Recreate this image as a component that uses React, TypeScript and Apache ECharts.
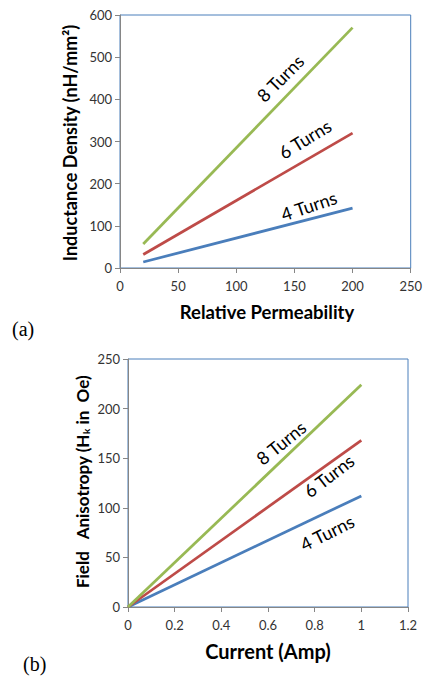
import React, { useEffect, useRef } from "react";
import * as echarts from "echarts";

// Chart (a): Inductance density vs relative permeability
const permeability = [20, 200];
const turns4A = [14.2, 142];
const turns6A = [32, 320];
const turns8A = [57, 570];
const xTicksA = [0, 250, 50];
const yTicksA = [0, 600, 100];

// Chart (b): Field anisotropy vs current
const current = [0, 1];
const turns4B = [0, 112];
const turns6B = [0, 168];
const turns8B = [0, 224];
const xTicksB = [0, 1.2, 0.2];
const yTicksB = [0, 250, 50];

const seriesNames = ["4 Turns", "6 Turns", "8 Turns"];
const colors = ["#4a7ebb", "#be4b48", "#98b954"];

// label anchor positions (data coordinates) and angles
const labelsA = [
  { coord: [162.4, 147.6], angle: 18.6 },
  { coord: [159, 306], angle: 31.5 },
  { coord: [137.8, 450], angle: 45 },
];
const labelsB = [
  { coord: [0.853, 74.9], angle: 26.6 },
  { coord: [0.861, 132.4], angle: 37.5 },
  { coord: [0.656, 165.6], angle: 39 },
];

const FONT = "Lato";
const GRAY = "#868686";
const BORDER = "#4a7ebb";

function axisCommon(range: number[]) {
  return {
    type: "value" as const,
    min: range[0],
    max: range[1],
    interval: range[2],
    axisLine: { show: true, lineStyle: { color: GRAY, width: 1 } },
    axisTick: { show: true, inside: false, length: 5, lineStyle: { color: GRAY } },
    splitLine: { show: false },
    axisLabel: { color: "#333", fontFamily: FONT, fontSize: 13 },
  };
}

function mk(xs: number[], ys: number[]) {
  return xs.map((x, i) => [x, ys[i]]);
}

export default function App() {
  const ref = useRef<HTMLDivElement>(null);
  useEffect(() => {
    if (!ref.current) return;
    const chart = echarts.init(ref.current, null, { renderer: "svg" });
    const dataA = [turns4A, turns6A, turns8A];
    const dataB = [turns4B, turns6B, turns8B];
    const series: any[] = [];
    dataA.forEach((d, i) =>
      series.push({
        type: "line",
        name: seriesNames[i] + " a",
        xAxisIndex: 0,
        yAxisIndex: 0,
        data: mk(permeability, d),
        showSymbol: false,
        lineStyle: { color: colors[i], width: 2.75 },
      })
    );
    dataB.forEach((d, i) =>
      series.push({
        type: "line",
        name: seriesNames[i] + " b",
        xAxisIndex: 1,
        yAxisIndex: 1,
        data: mk(current, d),
        showSymbol: false,
        lineStyle: { color: colors[i], width: 2.75 },
      })
    );
    chart.setOption({
      animation: false,
      backgroundColor: "#fff",
      grid: [
        { left: 120, top: 15, width: 294, height: 253, show: true, borderColor: BORDER, borderWidth: 1, backgroundColor: "transparent" },
        { left: 128, top: 359, width: 280, height: 248, show: true, borderColor: BORDER, borderWidth: 1, backgroundColor: "transparent" },
      ],
      xAxis: [
        { ...axisCommon(xTicksA), gridIndex: 0, axisLabel: { ...axisCommon(xTicksA).axisLabel, margin: 11 } },
        { ...axisCommon(xTicksB), gridIndex: 1, axisLabel: { ...axisCommon(xTicksB).axisLabel, margin: 11 } },
      ],
      yAxis: [
        { ...axisCommon(yTicksA), gridIndex: 0 },
        { ...axisCommon(yTicksB), gridIndex: 1 },
      ],
      series,
    });

    const lbl = (gridIndex: number, l: { coord: number[]; angle: number }, text: string) => {
      const p = chart.convertToPixel({ gridIndex } as any, l.coord) as number[];
      return {
        type: "text",
        x: p[0],
        y: p[1],
        rotation: (l.angle * Math.PI) / 180,
        style: {
          text,
          fill: "#000",
          font: `18px ${FONT}`,
          textAlign: "center",
          textVerticalAlign: "middle",
        },
      };
    };
    const titleStyle = (text: string, size: number, extra: any = {}) => ({
      text,
      fill: "#000",
      font: `bold ${size}px ${FONT}`,
      textAlign: "center",
      textVerticalAlign: "middle",
      ...extra,
    });
    const graphics: any[] = [
      { type: "text", x: 267, y: 312, style: titleStyle("Relative Permeability", 18.5) },
      { type: "text", x: 70, y: 143, rotation: Math.PI / 2, style: titleStyle("Inductance Density (nH/mm²)", 18) },
      { type: "text", x: 268, y: 651, style: titleStyle("Current (Amp)", 20) },
      {
        type: "text",
        x: 82,
        y: 482,
        rotation: Math.PI / 2,
        style: titleStyle("Field   Anisotropy (H{s|k} in  Oe)", 17, {
          rich: { s: { font: `bold 10px ${FONT}`, fill: "#000", padding: [8, 0, 0, 0] } },
        }),
      },
      { type: "text", x: 12, y: 329, style: { text: "(a)", fill: "#000", font: "20px 'Liberation Serif'", textAlign: "left", textVerticalAlign: "middle" } },
      { type: "text", x: 23, y: 664, style: { text: "(b)", fill: "#000", font: "20px 'Liberation Serif'", textAlign: "left", textVerticalAlign: "middle" } },
    ];
    labelsA.forEach((l, i) => graphics.push(lbl(0, l, seriesNames[i])));
    labelsB.forEach((l, i) => graphics.push(lbl(1, l, seriesNames[i])));
    chart.setOption({ graphic: graphics });
    return () => chart.dispose();
  }, []);
  return <div ref={ref} style={{ position: "absolute", left: 0, top: 0, width: 425, height: 676 }} />;
}
